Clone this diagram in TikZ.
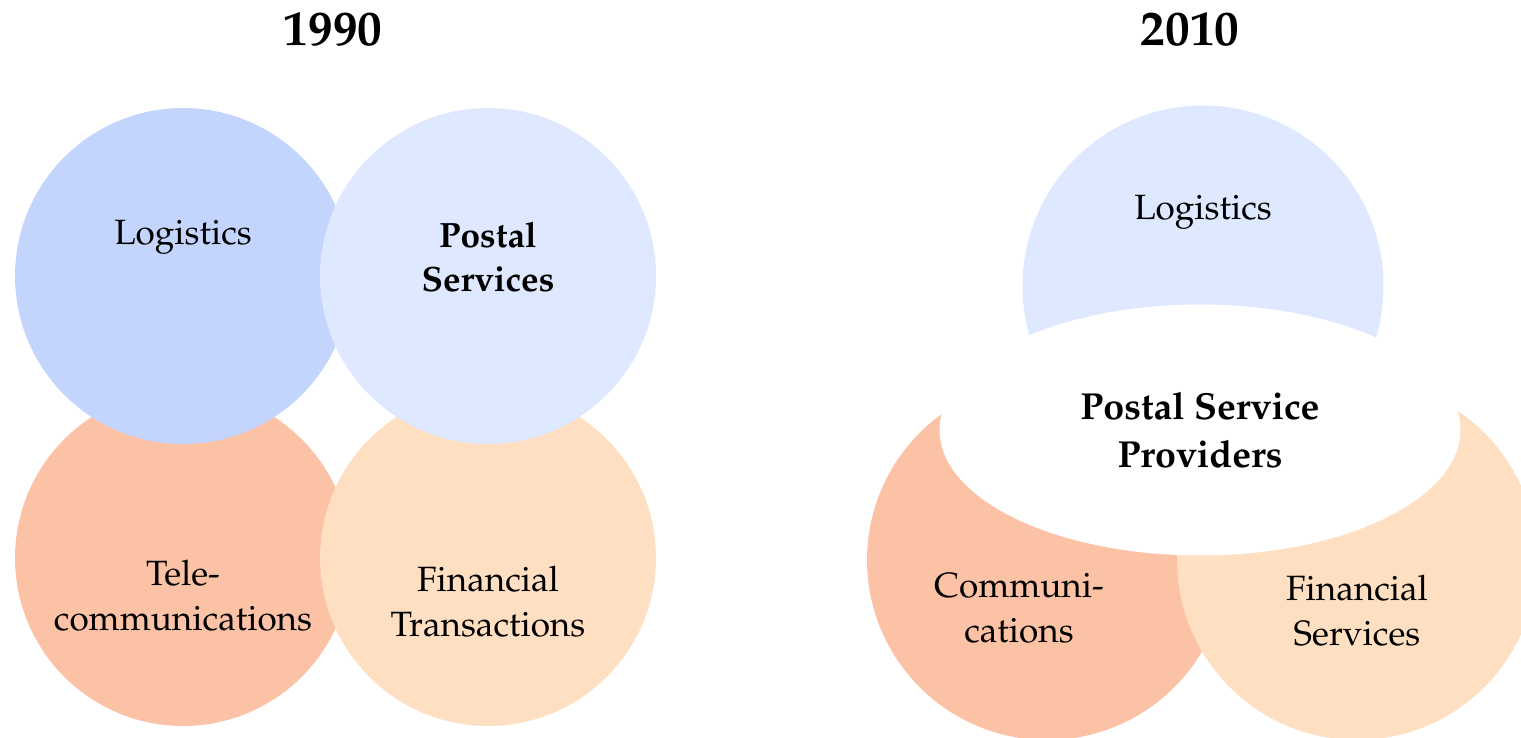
\documentclass[tikz,border=0pt]{standalone}
\usepackage[T1]{fontenc}
\usepackage{mathpazo}
\usetikzlibrary{positioning,shapes.geometric}

\definecolor{logblue}{HTML}{C3D5FD}
\definecolor{paleblue}{HTML}{DEE8FE}
\definecolor{salmon}{HTML}{FCC2A6}
\definecolor{peach}{HTML}{FEDFC1}

\tikzset{
	blob/.style={circle,draw=none,fill=#1,inner sep=0pt},
	lab/.style={align=center,font=\fontsize{20}{25.6}\selectfont},
	year/.style={font=\fontsize{28}{32}\selectfont\bfseries}
}

\begin{document}
\begin{tikzpicture}[x=0.02cm,y=-0.02cm]
		\useasboundingbox (0,0) rectangle (1521,737);
		% 1990
		\node[year] (y1) at (333,29) {1990};
		\node(tele) [blob=salmon,minimum size=6.72cm] at (183,558) {};
		\node(fin) [blob=peach,minimum size=6.72cm] at (488,558) {};
		\node(log) [blob=logblue,minimum size=6.72cm] at (183,276) {};
		\node(post) [blob=paleblue,minimum size=6.72cm] at (488,276) {};
		\node[lab] at (183,237) {Logistics};
		\node[lab,font=\fontsize{20}{25.6}\selectfont\bfseries] at (488,257) {Postal\\Services};
		\node[lab] at (183,596) {Tele-\\communications};
		\node[lab] at (488,602) {Financial\\Transactions};
		% 2010
		\node[year] (y2) at (1190,29) {2010};
		\node(log2) [blob=paleblue,minimum size=7.22cm] at (1203,286) {};
		\node(comm) [blob=salmon,minimum size=7.2cm] at (1047,560) {};
		\node(fin2) [blob=peach,minimum size=7.2cm] at (1357,560) {};
		\node(psp) [ellipse,fill=white,inner sep=0pt,minimum width=10.42cm,minimum height=5.02cm] at (1200,430) {};
		\node[lab] at (1203,212) {Logistics};
		\node[lab,font=\fontsize{21.4}{27}\selectfont\bfseries] at (psp.center) {Postal Service\\Providers};
		\node[lab] at (1019,608) {Communi-\\cations};
		\node[lab] at (1357,611) {Financial\\Services};
	\end{tikzpicture}
\end{document}
